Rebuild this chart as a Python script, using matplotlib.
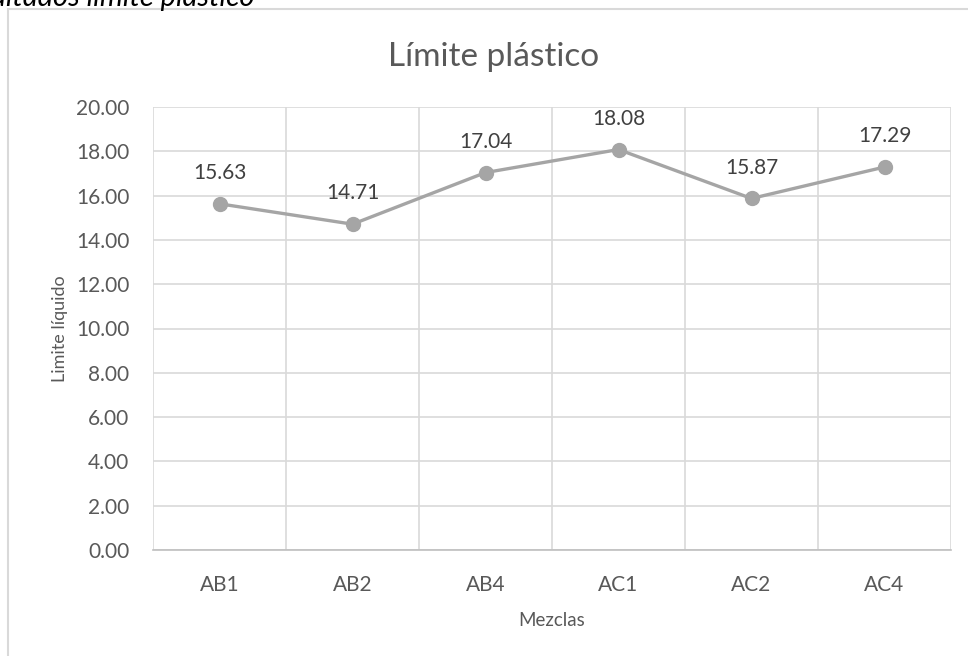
import matplotlib.pyplot as plt
import matplotlib.patches as patches
import numpy as np

plt.rcParams['font.family'] = ['Lato', 'DejaVu Sans']

# datos del ensayo
mezclas = ['AB1', 'AB2', 'AB4', 'AC1', 'AC2', 'AC4']
limite = [15.63, 14.71, 17.04, 18.08, 15.87, 17.29]
yticks = np.arange(0, 20.01, 2.0)

gris_texto = '#595959'
gris_linea = '#A5A5A5'
gris_grid = '#D9D9D9'

fig = plt.figure(figsize=(9.68, 6.56), dpi=100)

# marco del grafico (recortado por el borde de la imagen)
marco = patches.Rectangle((8 / 968, -0.1), 1.1, 1 - 9 / 656 + 0.1,
                          transform=fig.transFigure, fill=False,
                          edgecolor=gris_grid, linewidth=1.5)
fig.patches.append(marco)

# subtitulo del documento, cortado arriba
fig.text(-0.054, 1 - 6 / 656, 'Resultados límite plástico', fontsize=21,
         style='italic', color='black', ha='left', va='baseline')

ax = fig.add_axes([153 / 968, 1 - 550 / 656, (951 - 153) / 968, (550 - 107) / 656])

x = np.arange(len(mezclas))
ax.plot(x, limite, color=gris_linea, linewidth=2.4, marker='o',
        markersize=10, zorder=3)
for xi, v in zip(x, limite):
    ax.annotate(f'{v:.2f}', (xi, v), xytext=(0, 15), textcoords='offset points',
                ha='center', va='bottom', fontsize=15, color='#404040')

ax.set_xlim(-0.5, len(mezclas) - 0.5)
ax.set_ylim(0, 20)
ax.set_yticks(yticks)
ax.set_yticklabels([f'{v:.2f}' for v in yticks])
ax.set_xticks(x)
ax.set_xticklabels(mezclas)
ax.set_xticks(np.arange(-0.5, len(mezclas)), minor=True)

ax.grid(axis='y', color=gris_grid, linewidth=1.2)
ax.grid(axis='x', which='minor', color=gris_grid, linewidth=1.2)
ax.set_axisbelow(True)

for s in ['top', 'right', 'left']:
    ax.spines[s].set_visible(False)
ax.spines['bottom'].set_color('#BFBFBF')
ax.spines['bottom'].set_linewidth(1.2)

ax.tick_params(axis='both', which='both', length=0, labelsize=15,
               colors=gris_texto)
ax.tick_params(axis='x', pad=18)
ax.tick_params(axis='y', pad=17)

fig.text(494 / 968, 1 - 57 / 656, 'Límite plástico', fontsize=24,
         color=gris_texto, ha='center', va='center')
ax.set_xlabel('Mezclas', fontsize=13.5, color=gris_texto, labelpad=12)
ax.set_ylabel('Limite líquido', fontsize=13, color=gris_texto, labelpad=6)

fig.savefig('out.png', dpi=100, facecolor='white')
